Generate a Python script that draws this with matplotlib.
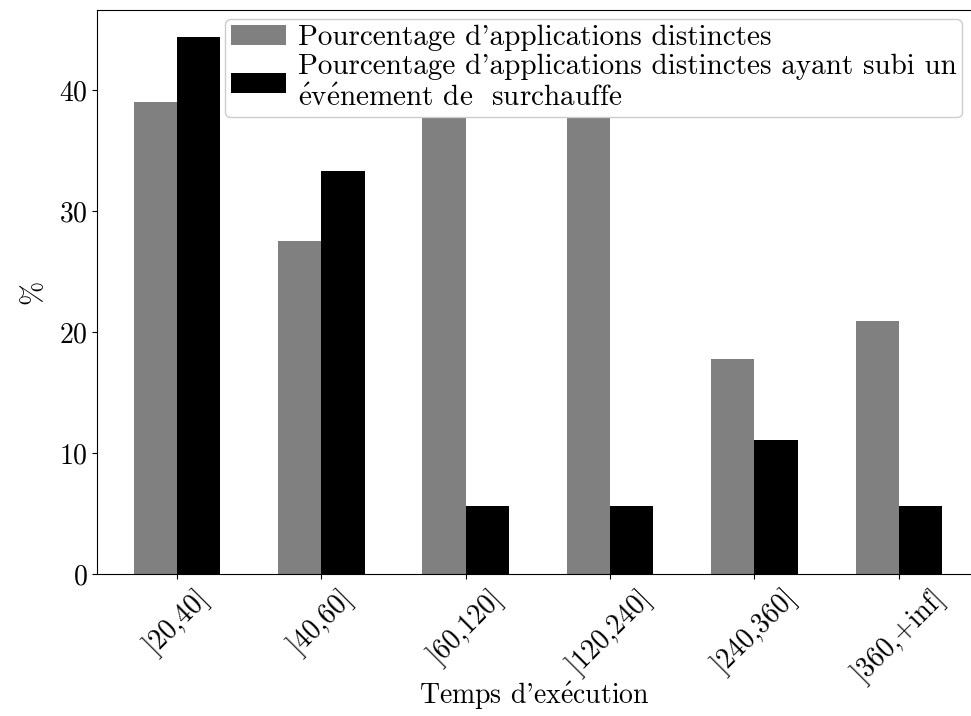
import matplotlib
matplotlib.use('Agg')
import matplotlib.pyplot as plt
import numpy as np

plt.rcParams['font.family'] = ['cmr10', 'DejaVu Serif']
plt.rcParams['mathtext.fontset'] = 'cm'
plt.rcParams['axes.formatter.use_mathtext'] = True
plt.rcParams['font.size'] = 21

E = r'$\mathrm{\acute{e}}$'

categories = [']20,40]', ']40,60]', ']60,120]', ']120,240]', ']240,360]', ']360,+inf]']
pct_apps = [39.0, 27.5, 40.5, 40.5, 17.8, 20.9]
pct_apps_hot = [44.4, 33.3, 5.6, 5.6, 11.1, 5.6]

x = np.arange(len(categories))
w = 0.3

fig = plt.figure(figsize=(9.71, 7.16), dpi=100)
ax = fig.add_axes([0.1, 0.198, 0.9, 0.788])
ax.bar(x - w / 2, pct_apps, w, color='gray', label="Pourcentage d'applications distinctes")
ax.bar(x + w / 2, pct_apps_hot, w, color='black',
       label="Pourcentage d'applications distinctes ayant subi un\n"
             + E + "v" + E + "nement de  surchauffe")
ax.set_xticks(x)
ax.set_xticklabels(categories, rotation=45, fontsize=20)
ax.tick_params(axis='y', labelsize=20)
ax.set_xlim(-0.554, 5.5)
ax.set_ylim(0, 46.6)
ax.set_yticks([0, 10, 20, 30, 40])
ax.spines['right'].set_visible(False)
ax.set_xlabel("Temps d'ex" + E + "cution", fontsize=20)
ax.xaxis.set_label_coords(0.5, -0.186)
ax.set_ylabel('%')
ax.yaxis.set_label_coords(-0.058, 0.5)
ax.legend(loc='upper right', framealpha=1, borderaxespad=0.3, handletextpad=0.4,
          labelspacing=0.1, borderpad=0.2, handlelength=1.9)

fig.savefig('out.png', dpi=100)
